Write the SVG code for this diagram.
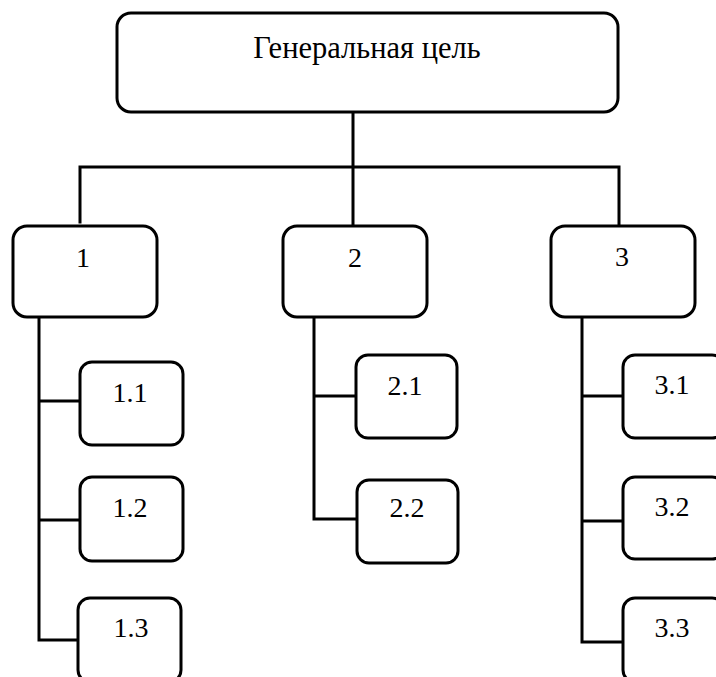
<svg xmlns="http://www.w3.org/2000/svg" width="716" height="677" viewBox="0 0 716 677">
<style>
.box{fill:#fff;stroke:#000;stroke-width:3}
.ln{fill:none;stroke:#000;stroke-width:3;stroke-linecap:square}
text{font-family:"Liberation Serif","Times New Roman",serif;font-size:28px;fill:#000;text-anchor:middle}
.title{font-size:30.5px}
</style>
<rect width="716" height="677" fill="#fff"/>
<g id="connectors">
<path class="ln" d="M353,112 V167 M80,222 V167 H619 V226 M353,167 V226"/>
<path class="ln" d="M39,317 V640 H79 M39,401 H80 M39,520 H80"/>
<path class="ln" d="M314,317 V519 H356 M314,396 H356"/>
<path class="ln" d="M582,317 V642 H623 M582,396 H623 M582,521 H623"/>
</g>
<g id="n0"><rect class="box" x="117" y="13" width="501" height="99" rx="14"/><text class="title" x="367" y="58">Генеральная цель</text></g>
<g id="n1"><rect class="box" x="13" y="226" width="144" height="91" rx="14"/><text x="83" y="267">1</text></g>
<g id="n2"><rect class="box" x="283" y="226" width="144" height="91" rx="14"/><text x="355" y="267">2</text></g>
<g id="n3"><rect class="box" x="551" y="226" width="144" height="91" rx="14"/><text x="622" y="266">3</text></g>
<g id="n11"><rect class="box" x="80" y="362" width="103" height="83" rx="12"/><text x="130" y="402">1.1</text></g>
<g id="n12"><rect class="box" x="80" y="477" width="103" height="84" rx="12"/><text x="130" y="517">1.2</text></g>
<g id="n13"><rect class="box" x="78" y="598" width="103" height="84" rx="12"/><text x="131" y="637">1.3</text></g>
<g id="n21"><rect class="box" x="356" y="355" width="101" height="83" rx="12"/><text x="405" y="395">2.1</text></g>
<g id="n22"><rect class="box" x="357" y="480" width="101" height="83" rx="12"/><text x="407" y="517">2.2</text></g>
<g id="n31"><rect class="box" x="623" y="355" width="101" height="83" rx="12"/><text x="672" y="394">3.1</text></g>
<g id="n32"><rect class="box" x="623" y="477" width="101" height="82" rx="12"/><text x="672" y="516">3.2</text></g>
<g id="n33"><rect class="box" x="623" y="598" width="101" height="84" rx="12"/><text x="672" y="637">3.3</text></g>
</svg>
